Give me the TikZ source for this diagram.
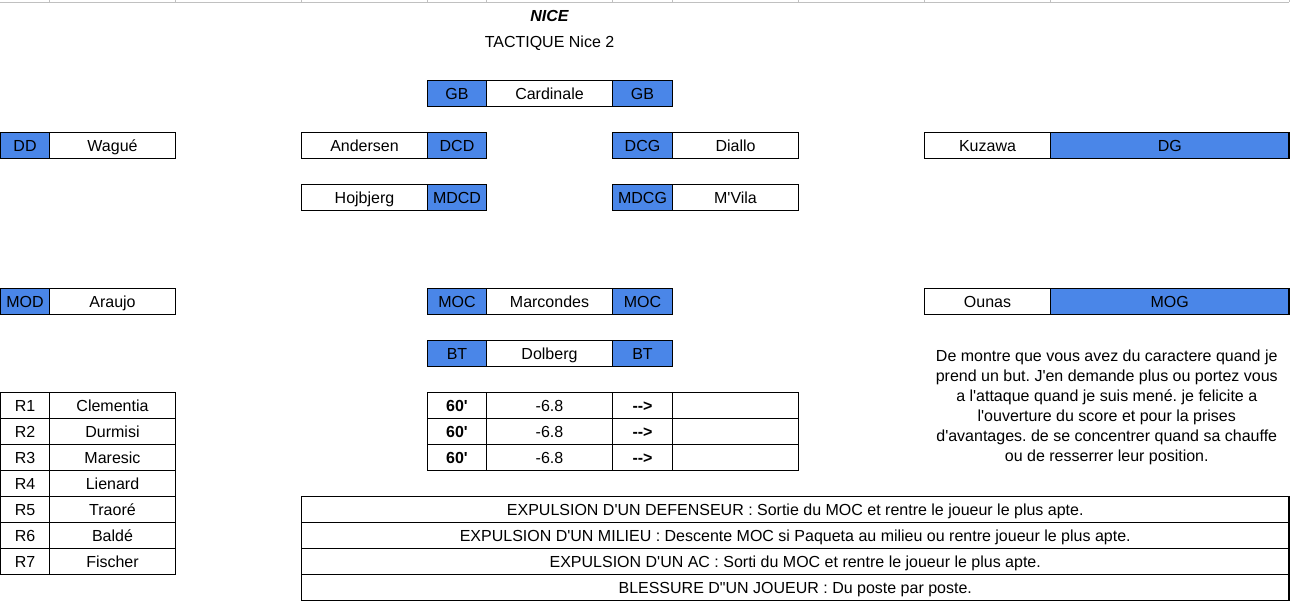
\documentclass[tikz,border=0pt]{standalone}
\usepackage{fontspec}
\setmainfont{Liberation Sans}[Ligatures=TeXOff]
\frenchspacing
\definecolor{hdr}{HTML}{4A86E8}
\definecolor{gridc}{HTML}{C0C0C0}
\tikzset{
  cell/.style={draw=black, line width=0.8pt, inner sep=0pt, text height=10pt, text depth=0pt,
    minimum height=19.5pt, font=\fontsize{12}{14}\selectfont},
  hcell/.style={cell, fill=hdr},
  bcell/.style={cell, font=\fontsize{12}{14}\selectfont\bfseries},
  title/.style={inner sep=0pt, text height=10pt, text depth=0pt, font=\fontsize{12}{14}\selectfont},
}
\newcommand\cel[6][cell]{\node[#1, minimum width={(#4-#3)*0.75}] (#2) at ({(#3+#4)/2},{15.3+26*#5}) {#6};}
\begin{document}
\begin{tikzpicture}[x=0.75pt, y=-0.75pt]
\useasboundingbox (0,0) rectangle (1291,601);
% top grid line
\draw[gridc, line width=0.75pt] (0,2.3) -- (1289,2.3);
\foreach \gx in {49.5,175.5,301.5,427.5,486.5,612.5,672.5,798.5,924.5,1050.5,1289}
  \draw[gridc, line width=0.75pt] (\gx,0) -- (\gx,2.3);
% titles
\node[title, font=\fontsize{12}{14}\selectfont\bfseries\itshape] (nice) at (549.5,15.3) {NICE};
\node[title] (tact) at (549.5,41.3) {TACTIQUE Nice 2};
% GB row
\cel[hcell]{gb1}{427.5}{486.5}{3}{GB}
\cel{card}{486.5}{612.5}{3}{Cardinale}
\cel[hcell]{gb2}{612.5}{672.5}{3}{GB}
% defenders
\cel[hcell]{dd}{0.6}{49.5}{5}{DD}
\cel{wag}{49.5}{175.5}{5}{Wagué}
\cel{and}{301.5}{427.5}{5}{Andersen}
\cel[hcell]{dcd}{427.5}{486.5}{5}{DCD}
\cel[hcell]{dcg}{612.5}{672.5}{5}{DCG}
\cel{dia}{672.5}{798.5}{5}{Diallo}
\cel{kuz}{924.5}{1050.5}{5}{Kuzawa}
\cel[hcell]{dg}{1050.5}{1289}{5}{DG}
% defensive mids
\cel{hoj}{301.5}{427.5}{7}{Hojbjerg}
\cel[hcell]{mdcd}{427.5}{486.5}{7}{MDCD}
\cel[hcell]{mdcg}{612.5}{672.5}{7}{MDCG}
\cel{mvila}{672.5}{798.5}{7}{M'Vila}
% attacking mids
\cel[hcell]{mod}{0.6}{49.5}{11}{MOD}
\cel{ara}{49.5}{175.5}{11}{Araujo}
\cel[hcell]{moc1}{427.5}{486.5}{11}{MOC}
\cel{marc}{486.5}{612.5}{11}{Marcondes}
\cel[hcell]{moc2}{612.5}{672.5}{11}{MOC}
\cel{oun}{924.5}{1050.5}{11}{Ounas}
\cel[hcell]{mog}{1050.5}{1289}{11}{MOG}
% striker
\cel[hcell]{bt1}{427.5}{486.5}{13}{BT}
\cel{dol}{486.5}{612.5}{13}{Dolberg}
\cel[hcell]{bt2}{612.5}{672.5}{13}{BT}
% substitutions table
\foreach \r/\k in {15/a,16/b,17/c}{
  \cel[bcell]{min\k}{427.5}{486.5}{\r}{60'}
  \cel{val\k}{486.5}{612.5}{\r}{-6.8}
  \cel[bcell]{arr\k}{612.5}{672.5}{\r}{-{}->}
  \cel{emp\k}{672.5}{798.5}{\r}{}
}
% reserves
\foreach \r/\n/\p in {15/1/Clementia,16/2/Durmisi,17/3/Maresic,18/4/Lienard,19/5/Traoré,20/6/Baldé,21/7/Fischer}{
  \cel{rn\n}{0.6}{49.5}{\r}{R\n}
  \cel{rp\n}{49.5}{175.5}{\r}{\p}
}
% rules
\cel{ex1}{301.5}{1289}{19}{EXPULSION D'UN DEFENSEUR : Sortie du MOC et rentre le joueur le plus apte.}
\cel{ex2}{301.5}{1289}{20}{EXPULSION D'UN MILIEU : Descente MOC si Paqueta au milieu ou rentre joueur le plus apte.}
\cel{ex3}{301.5}{1289}{21}{EXPULSION D'UN AC : Sorti du MOC et rentre le joueur le plus apte.}
\cel{ex4}{301.5}{1289}{22}{BLESSURE D"UN JOUEUR : Du poste par poste.}
% note
\node[align=center, inner sep=0pt, font=\fontsize{12}{15}\selectfont] (note) at (1106.75,407.5)
  {De montre que vous avez du caractere quand je\\
   prend un but. J'en demande plus ou portez vous\\
   a l'attaque quand je suis mené. je felicite a\\
   l'ouverture du score et pour la prises\\
   d'avantages. de se concentrer quand sa chauffe\\
   ou de resserrer leur position.};
\end{tikzpicture}
\end{document}
